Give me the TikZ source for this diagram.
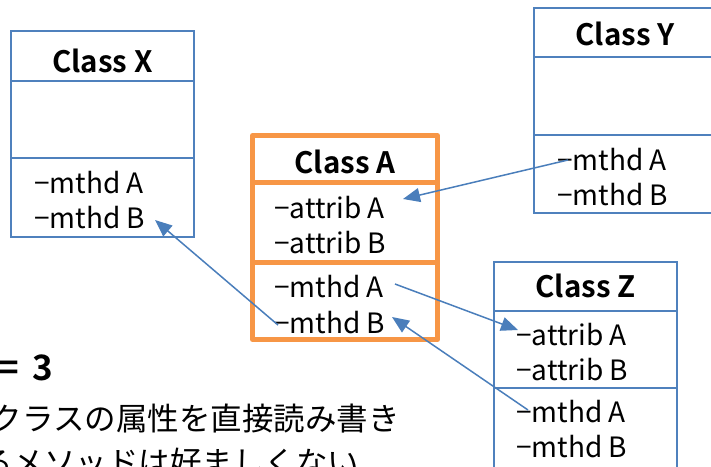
\documentclass[tikz,border=0pt]{standalone}
\usepackage{fontspec}
\setmainfont{Noto Sans CJK JP}[BoldFont={Noto Sans CJK JP Bold}]
\usetikzlibrary{arrows.meta}
\definecolor{boxblue}{RGB}{79,129,189}
\definecolor{arrblue}{RGB}{74,126,187}
\definecolor{boxorange}{RGB}{247,150,70}
\tikzset{
  bluebox/.style={draw=boxblue, line width=2.6pt},
  orangebox/.style={draw=boxorange, line width=5pt, line join=round},
  hdr/.style={font=\fontsize{29.5}{29.5}\selectfont\bfseries, inner sep=0pt, anchor=base},
  item/.style={font=\fontsize{28}{28}\selectfont, inner sep=0pt, anchor=base west},
  link/.style={draw=arrblue, line width=1.5pt, -{Triangle[length=17pt,width=14pt]}},
  jp/.style={font=\fontsize{31.5}{31.5}\selectfont, inner sep=0pt, anchor=base west},
}
\begin{document}
\begin{tikzpicture}[x=1pt,y=-1pt]
\useasboundingbox (0,0) rectangle (711,466);
% Class X
\draw[bluebox] (11,31) rectangle (194,237);
\draw[bluebox] (11,81) -- (194,81);
\draw[bluebox] (11,158) -- (194,158);
\node[hdr] (xh) at (102.5,72) {Class X};
\node[item] (xmA) at (34,193) {−mthd A};
\node[item] (xmB) at (34,228) {−mthd B};
% Class Y
\draw[bluebox] (534,8) rectangle (716,213);
\draw[bluebox] (534,57) -- (716,57);
\draw[bluebox] (534,135) -- (716,135);
\node[hdr] (yh) at (625,45) {Class Y};
\node[item] (ymA) at (557,170) {−mthd A};
\node[item] (ymB) at (557,205) {−mthd B};
% Class Z
\draw[bluebox] (494,262) rectangle (677,490);
\draw[bluebox] (494,311) -- (677,311);
\draw[bluebox] (494,388) -- (677,388);
\node[hdr] (zh) at (585.5,297) {Class Z};
\node[item] (zaA) at (516,345) {−attrib A};
\node[item] (zaB) at (516,380) {−attrib B};
\node[item] (zmA) at (516,422) {−mthd A};
\node[item] (zmB) at (516,457) {−mthd B};
% Class A
\draw[orangebox] (252.5,135.5) rectangle (437.5,339.5);
\draw[orangebox] (252.5,182.5) -- (437.5,182.5);
\draw[orangebox] (252.5,262.5) -- (437.5,262.5);
\node[hdr] (ah) at (345,173) {Class A};
\node[item] (aaA) at (274,218) {−attrib A};
\node[item] (aaB) at (274,253) {−attrib B};
\node[item] (amA) at (274,297) {−mthd A};
\node[item] (amB) at (274,333) {−mthd B};
% bottom-left text
\node[font=\fontsize{35}{35}\selectfont\bfseries, inner sep=0pt, anchor=base west] (eq) at (-2,380) {=\hspace{0.4em}3};
\node[jp] (j1) at (-9.5,430) {クラスの属性を直接読み書き};
\node[jp] (j2) at (-19,474) {るメソッドは好ましくない};
% connectors
\draw[link] ([xshift=11pt,yshift=10pt]ymA.base west) -- ([xshift=129pt,yshift=19pt]aaA.base west);
\draw[link] ([xshift=4pt,yshift=8pt]amB.base west) -- ([xshift=121pt,yshift=8pt]xmB.base west);
\draw[link] ([xshift=121pt,yshift=13pt]amA.base west) -- ([xshift=2pt,yshift=15pt]zaA.base west);
\draw[link] ([xshift=12pt,yshift=12pt]zmA.base west) -- ([xshift=118pt,yshift=16pt]amB.base west);
\end{tikzpicture}
\end{document}
